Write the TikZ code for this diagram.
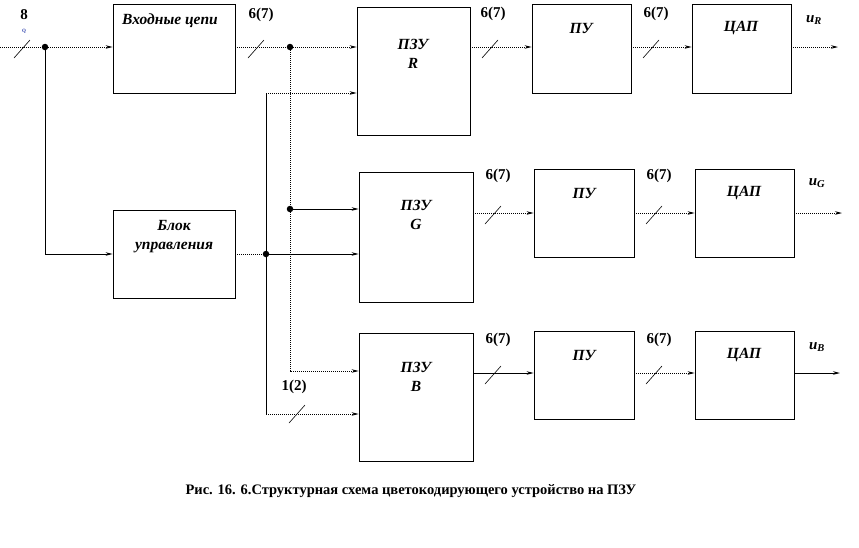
\documentclass[tikz,border=0pt]{standalone}
\usepackage{fontspec}
\setmainfont{Liberation Serif}
\usetikzlibrary{arrows.meta,calc}
\definecolor{qblue}{RGB}{40,60,170}
\begin{document}
\begin{tikzpicture}[x=1pt,y=-1pt,
  box/.style={draw,line width=0.8pt,inner sep=0pt},
  blab/.style={font=\bfseries\itshape\fontsize{15.5}{19}\selectfont,align=center,inner sep=0pt},
  num/.style={font=\bfseries\fontsize{15}{17}\selectfont,inner sep=0pt},
  ulab/.style={font=\bfseries\itshape\fontsize{15}{17}\selectfont,inner sep=0pt},
  dl/.style={line width=0.8pt,dash pattern=on 1pt off 1pt},
  sl/.style={line width=0.8pt},
  arr/.style={-{Stealth[length=7pt,width=3.5pt]}},
  dot/.style={circle,fill=black,inner sep=0pt,minimum size=6.5pt},
  bus/.pic={\draw[line width=0.6pt] (-8,9) -- (8,-9);}
]
\useasboundingbox (0,0) rectangle (859,547);

% boxes
\node[box,minimum width=122pt,minimum height=89pt] (vc) at (174,48.5) {};
\node[box,minimum width=113pt,minimum height=128pt] (romR) at (413.5,71) {};
\node[box,minimum width=99pt,minimum height=89pt] (puR) at (581.5,48.5) {};
\node[box,minimum width=99pt,minimum height=89pt] (dacR) at (741.5,48.5) {};
\node[box,minimum width=122pt,minimum height=88pt] (bu) at (174,254) {};
\node[box,minimum width=114pt,minimum height=130pt] (romG) at (416,237) {};
\node[box,minimum width=100pt,minimum height=88pt] (puG) at (584,213) {};
\node[box,minimum width=99pt,minimum height=88pt] (dacG) at (744.5,213) {};
\node[box,minimum width=114pt,minimum height=128pt] (romB) at (416,397) {};
\node[box,minimum width=100pt,minimum height=88pt] (puB) at (584,375) {};
\node[box,minimum width=99pt,minimum height=88pt] (dacB) at (744.5,375) {};

% box texts
\node[blab] (tvc) at (170,21) {Входные цепи};
\node[blab] (tromR) at (413,54) {ПЗУ\\R};
\node[blab] (tpuR) at (581,28) {ПУ};
\node[blab] (tdacR) at (741,28) {ЦАП};
\node[blab] (tbu) at (174,237) {Блок\\управления};
\node[blab] (tromG) at (416,215) {ПЗУ\\G};
\node[blab] (tpuG) at (584,193) {ПУ};
\node[blab] (tdacG) at (744,193) {ЦАП};
\node[blab] (tromB) at (416,377) {ПЗУ\\B};
\node[blab] (tpuB) at (584,355) {ПУ};
\node[blab] (tdacB) at (744,355) {ЦАП};

% row levels
\coordinate (in0) at (0,47);
\coordinate (yR) at (0,47);
\coordinate (yG) at (0,213);
\coordinate (yB) at (0,373);
\coordinate (yb1) at (0,371);

% input and distribution
\node[dot] (d1) at (45,47) {};
\node[dot] (d2) at (290,47) {};
\node[dot] (d3) at (290,209) {};
\node[dot] (d4) at (266,254) {};
\coordinate (t266) at (266,93);
\coordinate (b266) at (266,414);

\draw[dl,arr] (in0) -- (in0 -| vc.west);
\draw[sl,arr] (d1) |- (bu.west);
\draw[dl,arr] (vc.east |- in0) -- (in0 -| romR.west);
\draw[dl,arr] (d2) |- (romB.west |- yb1);
\draw[sl,arr] (d3) -- (d3 -| romG.west);
\draw[dl] (bu.east) -- (d4);
\draw[sl,arr] (d4) -- (d4 -| romG.west);
\draw[sl] (t266) -- (b266);
\draw[dl,arr] (t266) -- (t266 -| romR.west);
\draw[dl,arr] (b266) -- (b266 -| romB.west);

% R row
\coordinate (oR) at (838,47);
\draw[dl,arr] (romR.east |- yR) -- (puR.west |- yR);
\draw[dl,arr] (puR.east |- yR) -- (dacR.west |- yR);
\draw[dl,arr] (dacR.east |- yR) -- (oR);
% G row
\coordinate (oG) at (842,213);
\draw[dl,arr] (romG.east |- yG) -- (puG.west |- yG);
\draw[dl,arr] (puG.east |- yG) -- (dacG.west |- yG);
\draw[dl,arr] (dacG.east |- yG) -- (oG);
% B row
\coordinate (oB) at (840,373);
\draw[sl,arr] (romB.east |- yB) -- (puB.west |- yB);
\draw[dl,arr] (puB.east |- yB) -- (dacB.west |- yB);
\draw[sl,arr] (dacB.east |- yB) -- (oB);

% bus ticks
\pic at (22,49) {bus};
\pic at (256,49) {bus};
\pic at (490,49) {bus};
\pic at (651,49) {bus};
\pic at (493,215) {bus};
\pic at (654,215) {bus};
\pic at (493,375) {bus};
\pic at (654,375) {bus};
\pic at (297,414) {bus};

% labels
\node[num] (l8) at (24,15) {8};
\node[font=\bfseries\fontsize{5}{5}\selectfont,text=qblue,inner sep=0pt] (lq) at (24,31) {Q};
\node[num] (l1) at (261,15) {6(7)};
\node[num] (l2) at (493,14) {6(7)};
\node[num] (l3) at (656,14) {6(7)};
\node[num] (l4) at (498,176) {6(7)};
\node[num] (l5) at (659,176) {6(7)};
\node[num] (l6) at (498,340) {6(7)};
\node[num] (l7) at (659,340) {6(7)};
\node[num] (l12) at (294,387) {1(2)};
\node[ulab] (uR) at (814,20) {u\textsubscript{R}};
\node[ulab] (uG) at (817,183) {u\textsubscript{G}};
\node[ulab] (uB) at (817,347) {u\textsubscript{B}};

% caption
\node[font=\bfseries\fontsize{14.5}{16}\selectfont,inner sep=0pt] (cap) at (411,491)
  {Рис. 16. 6.Структурная схема цветокодирующего устройство на ПЗУ};
\end{tikzpicture}
\end{document}
